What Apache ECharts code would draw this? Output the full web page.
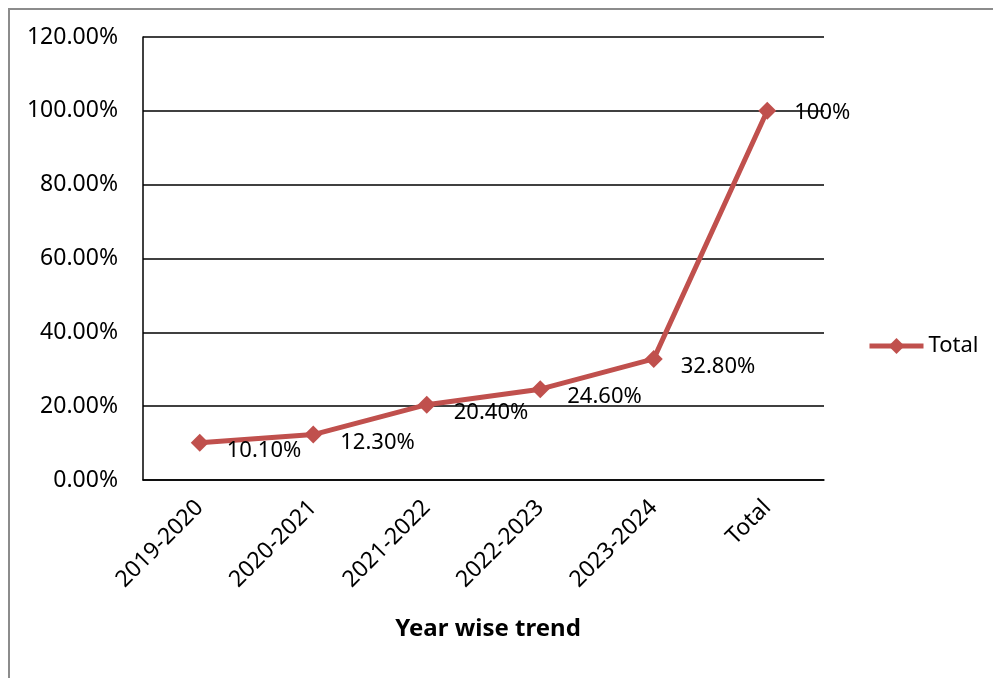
<!DOCTYPE html>
<html>
<head>
<meta charset="utf-8">
<script src="https://cdn.jsdelivr.net/npm/echarts@6/dist/echarts.min.js"></script>
<style>
  html, body { margin: 0; padding: 0; background: #fff; }
  #frame {
    position: absolute; left: 8px; top: 8px; width: 1200px; height: 900px;
    border-left: 2px solid #8c8c8c; border-top: 2px solid #8c8c8c;
  }
  #chart { position: absolute; left: 0; top: 0; width: 993px; height: 678px; }
</style>
</head>
<body>
<div id="frame"></div>
<div id="chart"></div>
<script>
// 数据
const periods = ['2019-2020', '2020-2021', '2021-2022', '2022-2023', '2023-2024', 'Total'];
const totals = [10.1, 12.3, 20.4, 24.6, 32.8, 100];
const pointLabels = ['10.10%', '12.30%', '20.40%', '24.60%', '32.80%', '100%'];

const font = '"Noto Sans", "Liberation Sans", sans-serif';
const chart = echarts.init(document.getElementById('chart'));

// 最后一个点的标签与线条同高
const seriesData = totals.map((v, i) =>
  i === totals.length - 1 ? { value: v, label: { offset: [0, 2] } } : v
);

chart.setOption({
  animation: false,
  backgroundColor: 'transparent',
  title: {
    text: 'Year wise trend',
    left: 483,
    top: 612,
    textAlign: 'center',
    textStyle: { fontFamily: font, fontSize: 24, fontWeight: 'bold', color: '#000' }
  },
  legend: {
    left: 862,
    top: 330,
    itemWidth: 54,
    itemHeight: 20,
    itemGap: 2,
    data: ['Total'],
    lineStyle: { width: 5 },
    textStyle: { fontFamily: font, fontSize: 22, color: '#000' }
  },
  grid: { left: 143, right: 169, top: 37, bottom: 198 },
  xAxis: {
    type: 'category',
    data: periods,
    boundaryGap: true,
    axisLine: { lineStyle: { color: '#000', width: 1.5 } },
    axisTick: { show: false },
    axisLabel: {
      rotate: 45,
      margin: 24,
      fontFamily: font,
      fontSize: 23,
      color: '#000'
    }
  },
  yAxis: {
    type: 'value',
    min: 0,
    max: 120,
    interval: 20,
    axisLine: { show: true, lineStyle: { color: '#000', width: 1.5 } },
    axisTick: { show: false },
    splitLine: { lineStyle: { color: '#000', width: 1.5 } },
    axisLabel: {
      margin: 25,
      fontFamily: font,
      fontSize: 23,
      color: '#000',
      formatter: v => v.toFixed(2) + '%'
    }
  },
  series: [
    {
      name: 'Total',
      type: 'line',
      data: seriesData,
      symbol: 'diamond',
      symbolSize: 18,
      color: '#C0504D',
      lineStyle: { width: 5, color: '#C0504D' },
      itemStyle: { color: '#C0504D' },
      label: {
        show: true,
        position: 'right',
        distance: 18,
        offset: [0, 8],
        fontFamily: font,
        fontSize: 22,
        color: '#000',
        formatter: p => pointLabels[p.dataIndex]
      }
    }
  ]
});
</script>
</body>
</html>
